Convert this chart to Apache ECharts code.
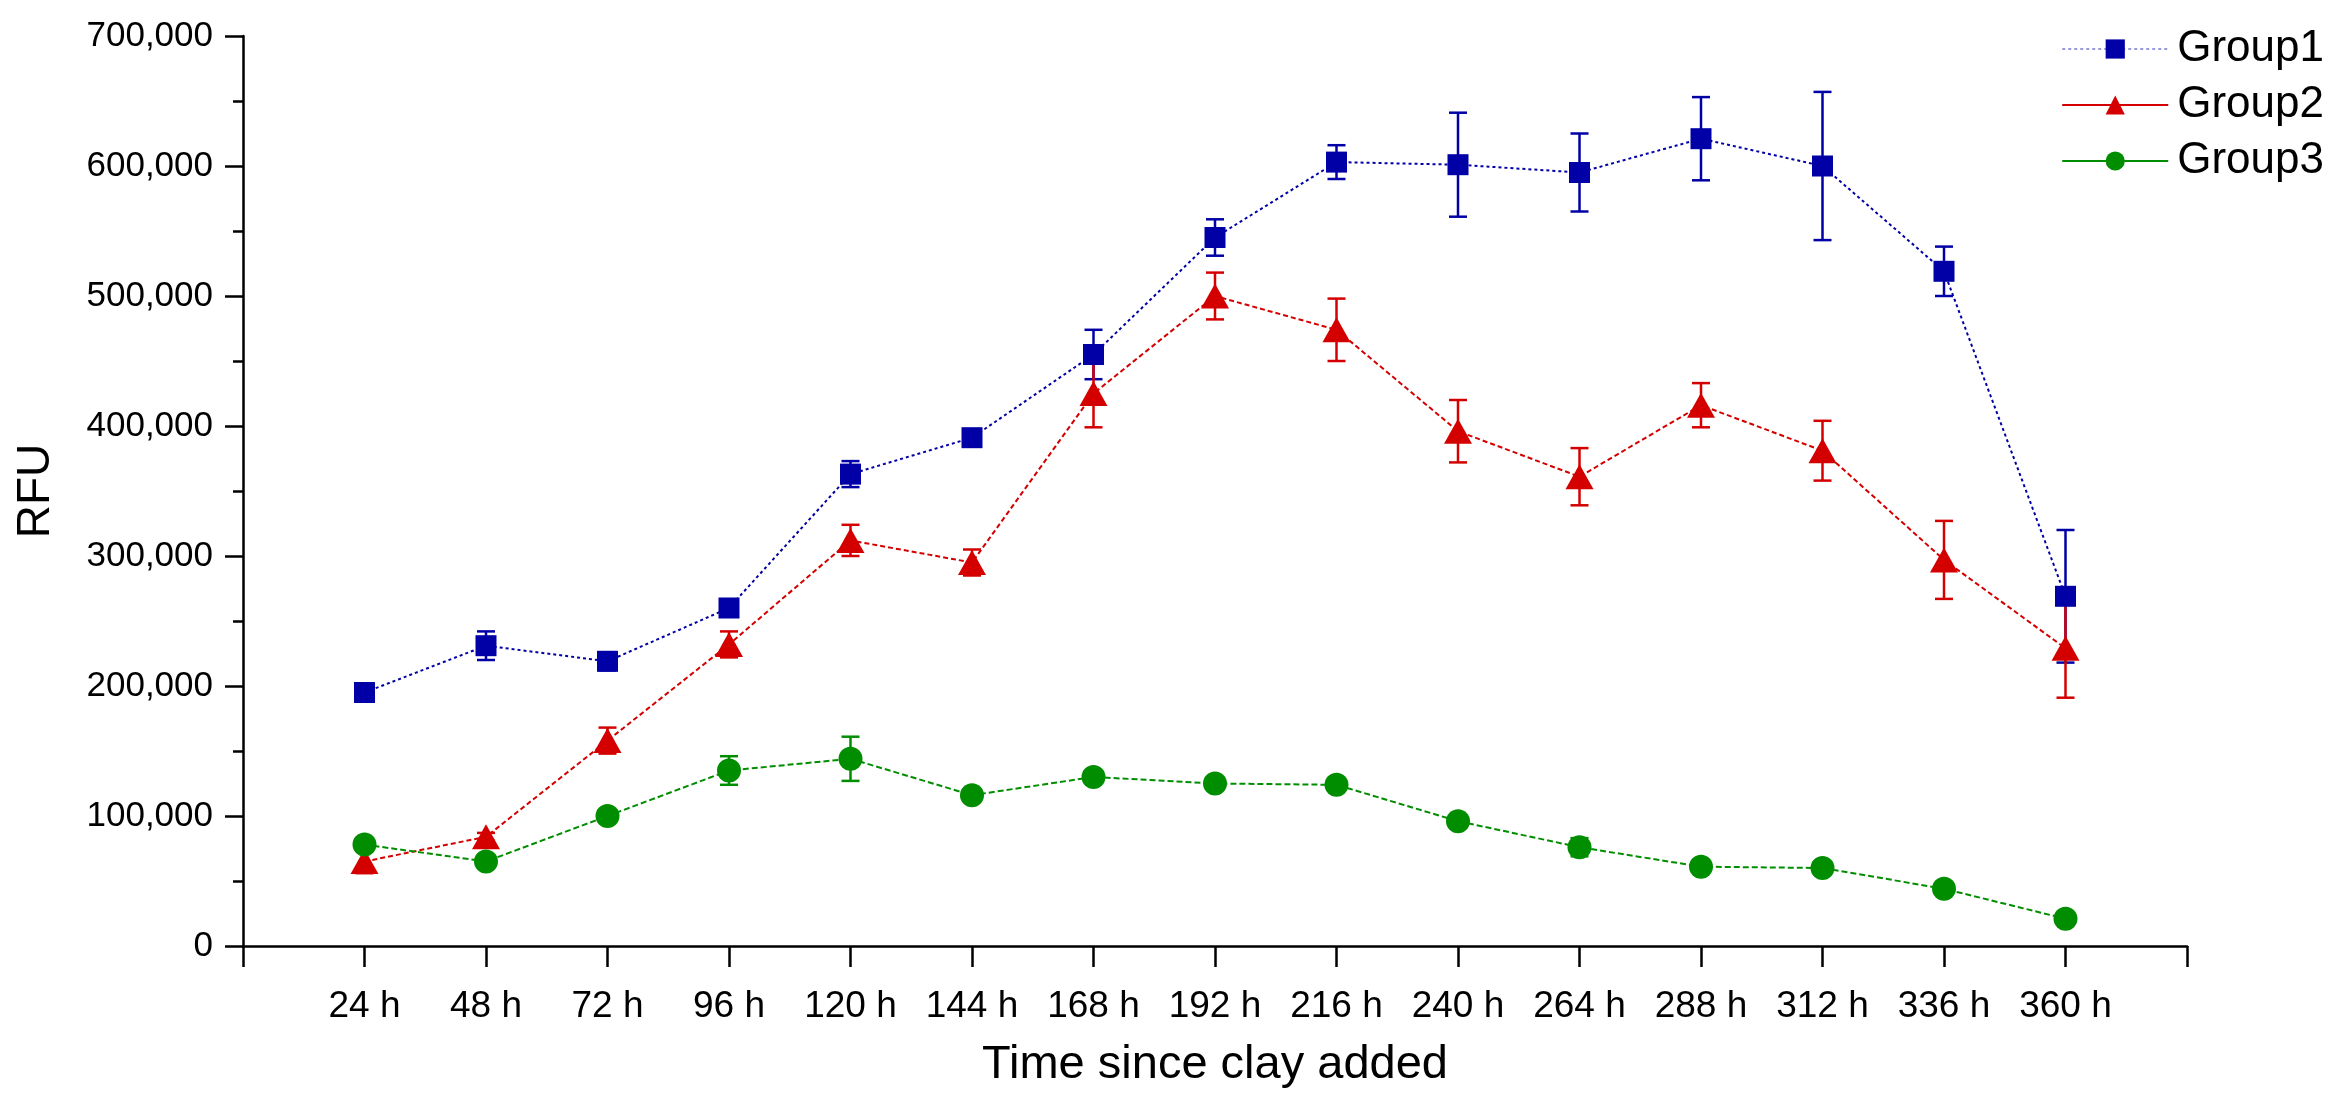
<!DOCTYPE html>
<html>
<head>
<meta charset="utf-8">
<script src="https://cdn.jsdelivr.net/npm/echarts@6/dist/echarts.min.js"></script>
<style>
html,body{margin:0;padding:0;background:#fff;}
#chart{width:2341px;height:1103px;}
</style>
</head>
<body>
<div id="chart"></div>
<script>
// ---- data ----
var hours = [24, 48, 72, 96, 120, 144, 168, 192, 216, 240, 264, 288, 312, 336, 360];
var seriesNames = ['Group1', 'Group2', 'Group3'];
var group1 = [195000, 231000, 219000, 260000, 363000, 391000, 455000, 545000, 603000, 601000, 595000, 621000, 600000, 519000, 269000];
var group1Err = [7000, 11000, 7000, 5000, 10000, 5000, 19000, 14000, 13000, 40000, 30000, 32000, 57000, 19000, 51000];
var group2 = [65000, 84000, 158000, 232000, 312000, 295000, 425000, 500000, 474000, 396000, 361000, 416000, 381000, 297000, 229000];
var group2Err = [9000, 3000, 10000, 10000, 12000, 10000, 26000, 18000, 24000, 24000, 22000, 17000, 23000, 30000, 38000];
var group3 = [78000, 65000, 100000, 135000, 144000, 116000, 130000, 125000, 124000, 96000, 76000, 61000, 60000, 44000, 21000];
var group3Err = [3000, 3000, 3000, 11000, 17000, 3000, 3000, 3000, 3000, 3000, 7000, 3000, 3000, 3000, 3000];
var yTicks = [0, 100000, 200000, 300000, 400000, 500000, 600000, 700000];

var colors = ['#0000A6', '#D40000', '#008E00'];
var symbols = ['rect', 'triangle', 'circle'];
var symbolSizes = [[21, 21], [28, 25], [24, 24]];
var lineTypes = [[3, 3], [5, 3], [6, 3]];
var values = [group1, group2, group3];
var errs = [group1Err, group2Err, group3Err];

var FONT = '"Liberation Sans", Arial, Helvetica, sans-serif';

function fmtNum(v) {
  return String(v).replace(/\B(?=(\d{3})+(?!\d))/g, ',');
}

var series = [];
// error bars
values.forEach(function (vals, si) {
  var data = hours.map(function (h, i) {
    return [h, vals[i] - errs[si][i], vals[i] + errs[si][i]];
  });
  series.push({
    type: 'custom',
    name: seriesNames[si] + ' err',
    data: data,
    z: 2,
    silent: true,
    encode: { x: 0, y: [1, 2] },
    renderItem: function (params, api) {
      var x = api.value(0);
      var lo = api.coord([x, api.value(1)]);
      var hi = api.coord([x, api.value(2)]);
      var half = 9;
      var st = { stroke: colors[si], lineWidth: 2.5 };
      return {
        type: 'group',
        children: [
          { type: 'line', shape: { x1: lo[0], y1: lo[1], x2: hi[0], y2: hi[1] }, style: st },
          { type: 'line', shape: { x1: lo[0] - half, y1: lo[1], x2: lo[0] + half, y2: lo[1] }, style: st },
          { type: 'line', shape: { x1: hi[0] - half, y1: hi[1], x2: hi[0] + half, y2: hi[1] }, style: st }
        ]
      };
    }
  });
});
// lines
values.forEach(function (vals, si) {
  series.push({
    type: 'line',
    name: seriesNames[si],
    data: hours.map(function (h, i) { return [h, vals[i]]; }),
    symbol: symbols[si],
    symbolSize: symbolSizes[si],
    showAllSymbol: true,
    z: 3,
    itemStyle: { color: colors[si], opacity: 1 },
    lineStyle: { color: colors[si], width: 2, type: lineTypes[si] }
  });
});

var chart = echarts.init(document.getElementById('chart'), null, { renderer: 'canvas' });
chart.setOption({
  animation: false,
  backgroundColor: '#ffffff',
  textStyle: { fontFamily: FONT, color: '#000' },
  grid: { left: 243, right: 154, top: 36, bottom: 157, containLabel: false },
  legend: {
    data: [
      { name: 'Group1', lineStyle: { color: '#9999dd', type: [3, 3], width: 2 } },
      { name: 'Group2', lineStyle: { type: 'solid', width: 2 } },
      { name: 'Group3', lineStyle: { type: 'solid', width: 2 } }
    ],
    orient: 'vertical',
    right: 12,
    top: 22,
    itemWidth: 106,
    itemHeight: 24,
    itemGap: 12,
    textStyle: { fontFamily: FONT, fontSize: 44, color: '#000', padding: [0, 0, 0, 4] }
  },
  xAxis: {
    type: 'value',
    min: 0,
    max: 384,
    interval: 24,
    name: 'Time since clay added',
    nameLocation: 'middle',
    nameGap: 96,
    nameTextStyle: { fontFamily: FONT, fontSize: 47, color: '#000' },
    axisLine: { show: true, onZero: false, lineStyle: { color: '#000', width: 2.5 } },
    axisTick: { show: true, inside: false, length: 21, lineStyle: { color: '#000', width: 2.5 } },
    axisLabel: {
      margin: 42,
      fontFamily: FONT,
      fontSize: 37,
      color: '#000',
      formatter: function (v) { return (v === 0 || v === 384) ? '' : v + ' h'; }
    },
    splitLine: { show: false }
  },
  yAxis: {
    type: 'value',
    min: yTicks[0],
    max: yTicks[yTicks.length - 1],
    interval: 100000,
    name: 'RFU',
    nameLocation: 'middle',
    nameGap: 184,
    nameTextStyle: { fontFamily: FONT, fontSize: 46, color: '#000' },
    axisLine: { show: true, lineStyle: { color: '#000', width: 2.5 } },
    axisTick: { show: true, inside: false, length: 18, lineStyle: { color: '#000', width: 2.5 } },
    minorTick: { show: true, splitNumber: 2, length: 10, lineStyle: { color: '#000', width: 2.5 } },
    axisLabel: {
      margin: 30,
      fontFamily: FONT,
      fontSize: 35,
      color: '#000',
      formatter: function (v) { return fmtNum(v); }
    },
    splitLine: { show: false },
    minorSplitLine: { show: false }
  },
  series: series
});
</script>
</body>
</html>
